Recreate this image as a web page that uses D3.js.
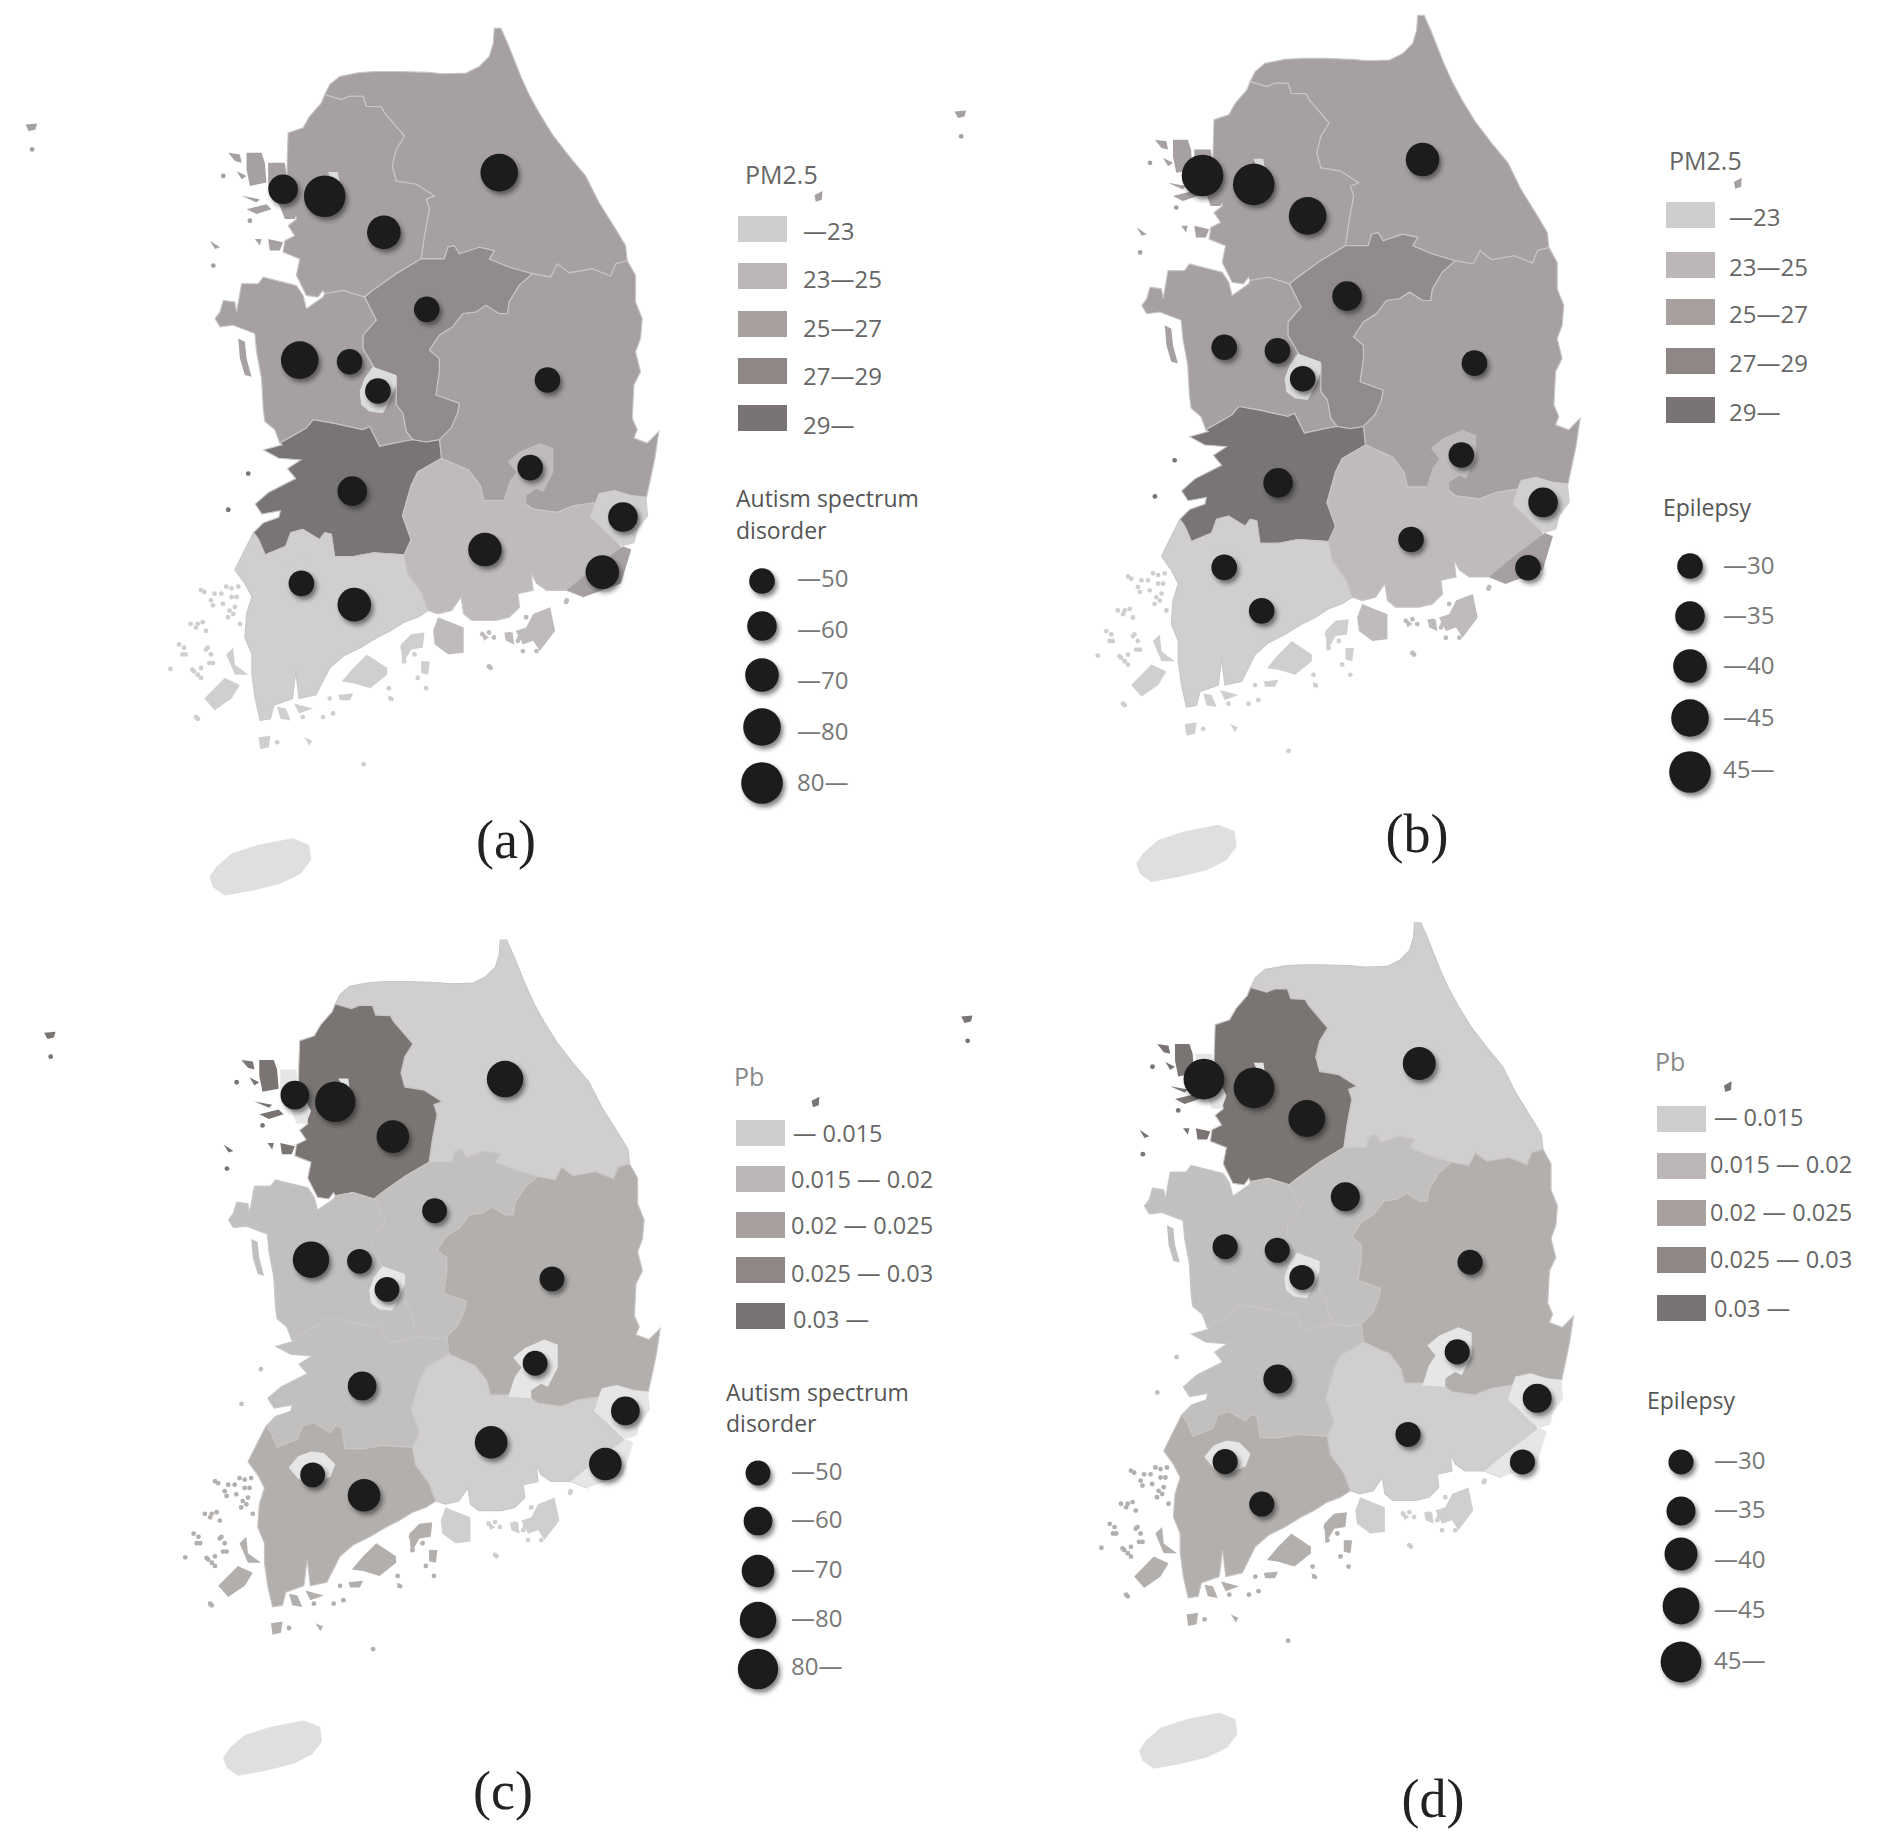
<!DOCTYPE html>
<html>
<head>
<meta charset="utf-8">
<script src="https://cdn.jsdelivr.net/npm/d3@7"></script>
<style>
  html, body { margin: 0; padding: 0; background: #fff; }
  text { font-family: "Open Sans", "Noto Sans", sans-serif; }
  .panel-label { font-family: "Liberation Serif", serif; fill: #222; }
</style>
</head>
<body>
<div id="chart"></div>
<script>
// province outlines, in map units
const gangwon = [[375,225],[390,195],[420,170],[480,158],[530,155],[600,155],[690,158],[730,162],[800,160],[840,140],[870,110],[882,70],[885,25],[905,25],[925,70],[945,120],[965,170],[990,225],[1020,280],[1060,345],[1110,410],[1160,470],[1200,550],[1250,630],[1280,680],[1285,725],[1250,735],[1235,772],[1180,750],[1110,762],[1075,735],[1055,775],[1000,765],[930,745],[870,720],[885,695],[840,685],[780,705],[765,680],[745,685],[735,720],[665,720],[675,650],[690,570],[680,540],[705,530],[650,495],[590,485],[578,440],[590,390],[615,350],[585,315],[555,280],[545,262],[500,260],[490,230],[450,230],[425,240]];
const gyeonggi = [[375,225],[425,240],[450,230],[490,230],[500,260],[545,262],[555,280],[585,315],[615,350],[590,390],[578,440],[590,485],[650,495],[705,530],[680,540],[690,570],[675,650],[665,720],[590,765],[520,815],[495,835],[430,815],[375,825],[370,815],[355,835],[320,830],[305,800],[290,770],[300,720],[250,700],[255,665],[285,650],[265,620],[290,600],[285,570],[260,540],[262,430],[265,340],[310,325],[330,290],[365,250]];
const chungbuk = [[495,835],[520,815],[590,765],[665,720],[735,720],[745,685],[765,680],[780,705],[840,685],[885,695],[870,720],[930,745],[1000,765],[960,800],[930,850],[925,885],[900,885],[860,860],[830,880],[790,885],[760,925],[720,950],[690,995],[720,1020],[720,1060],[710,1130],[780,1155],[775,1185],[755,1230],[720,1265],[680,1272],[640,1265],[620,1240],[610,1185],[590,1160],[590,1075],[525,1050],[490,990],[490,950],[530,905]];
const chungnam = [[495,835],[430,815],[375,825],[370,835],[320,870],[310,830],[290,800],[190,775],[175,795],[125,795],[110,880],[105,850],[70,845],[60,880],[45,900],[60,925],[100,920],[165,945],[170,1000],[185,1080],[190,1170],[195,1210],[225,1235],[240,1275],[285,1250],[320,1230],[340,1205],[400,1215],[490,1235],[510,1225],[540,1285],[620,1268],[640,1265],[620,1240],[610,1185],[590,1160],[590,1075],[525,1050],[490,990],[490,950],[530,905]];
const gyeongbuk = [[1000,765],[1055,775],[1075,735],[1110,762],[1180,750],[1235,772],[1250,735],[1285,725],[1310,770],[1310,850],[1330,900],[1325,960],[1310,1000],[1325,1060],[1305,1100],[1300,1200],[1315,1235],[1305,1260],[1345,1275],[1380,1240],[1368,1321],[1353,1392],[1343,1438],[1297,1433],[1246,1418],[1200,1428],[1190,1454],[1124,1464],[1073,1484],[1001,1474],[981,1459],[910,1448],[854,1448],[843,1403],[808,1357],[726,1321],[720,1265],[755,1230],[775,1185],[780,1155],[710,1130],[720,1060],[720,1020],[690,995],[720,950],[760,925],[790,885],[830,880],[860,860],[900,885],[925,885],[930,850],[960,800]];
const jeonbuk = [[240,1275],[285,1250],[320,1230],[340,1205],[400,1215],[490,1235],[510,1225],[540,1285],[620,1268],[640,1265],[680,1272],[720,1265],[726,1321],[655,1362],[635,1403],[609,1494],[635,1566],[614,1612],[522,1606],[461,1617],[405,1617],[395,1550],[375,1545],[360,1566],[309,1535],[273,1545],[258,1586],[196,1612],[176,1566],[161,1545],[191,1515],[237,1499],[242,1479],[186,1489],[166,1459],[207,1423],[288,1382],[263,1352],[303,1326],[237,1321],[191,1296],[247,1280]];
const jeonnam = [[161,1545],[176,1566],[196,1612],[258,1586],[273,1545],[309,1535],[360,1566],[375,1545],[395,1550],[405,1617],[461,1617],[522,1606],[614,1612],[624,1668],[665,1724],[686,1780],[655,1800],[614,1815],[573,1841],[533,1861],[482,1892],[431,1917],[390,1953],[349,2034],[298,2045],[288,1963],[278,2045],[222,2065],[212,2106],[181,2111],[166,2045],[156,1973],[156,1912],[135,1861],[140,1790],[156,1739],[135,1698],[105,1657],[130,1606]];
const gyeongnam = [[726,1321],[808,1357],[843,1403],[854,1448],[910,1448],[981,1459],[1001,1474],[1073,1484],[1124,1464],[1190,1454],[1175,1499],[1215,1535],[1251,1571],[1266,1586],[1256,1617],[1164,1668],[1154,1739],[1103,1719],[1042,1719],[1012,1698],[996,1668],[1002,1719],[956,1729],[961,1770],[930,1800],[889,1810],[818,1810],[793,1790],[785,1739],[757,1780],[716,1790],[686,1780],[665,1724],[624,1668],[614,1612],[635,1566],[609,1494],[635,1403],[655,1362]];
const daejeon = [[480,1120],[495,1080],[520,1045],[590,1070],[590,1100],[570,1150],[550,1185],[510,1180],[485,1160]];
const daegu = [[961,1301],[1022,1275],[1063,1291],[1063,1362],[1032,1423],[1012,1413],[981,1433],[981,1459],[910,1454],[930,1392],[951,1362],[925,1331]];
const ulsan = [[1343,1438],[1348,1494],[1317,1535],[1307,1576],[1272,1586],[1251,1571],[1215,1535],[1175,1499],[1190,1454],[1200,1428],[1246,1418],[1297,1433]];
const busan = [[1272,1586],[1297,1596],[1266,1698],[1154,1739],[1103,1719],[1164,1668],[1246,1606]];
const gwangju = [[231,1675],[260,1640],[300,1625],[340,1630],[375,1665],[360,1705],[310,1725],[260,1710]];
const seoul = [[385,458],[415,458],[420,490],[395,480]];
const incheon = [[205,430],[255,430],[262,480],[300,560],[285,600],[255,600],[240,560],[205,510]];

const regionNames = ["Gangwon","Gyeonggi","Chungbuk","Chungnam","Gyeongbuk","Jeonbuk","Jeonnam","Gyeongnam","Daejeon","Daegu","Ulsan","Busan","Gwangju","Seoul","Incheon"];
const regionShapes = [gangwon,gyeonggi,chungbuk,chungnam,gyeongbuk,jeonbuk,jeonnam,gyeongnam,daejeon,daegu,ulsan,busan,gwangju,seoul,incheon];

// islands: [owner region index, outline]
const islands = [
  [1,[[140,400],[185,400],[195,430],[200,490],[150,500],[140,450]]],
  [1,[[85,400],[120,405],[125,430],[105,425]]],
  [1,[[110,455],[140,470],[125,480]]],
  [1,[[140,570],[200,555],[215,570],[170,585]]],
  [1,[[30,665],[60,685],[45,690]]],
  [1,[[165,660],[185,660],[180,680]]],
  [1,[[205,660],[250,670],[240,695],[210,695]]],
  [1,[[125,530],[180,540],[170,550]]],
  [1,[[-525,315],[-490,312],[-495,330],[-515,335]]],
  [1,[[1848,528],[1872,515],[1870,542],[1852,548]]],
  [3,[[115,960],[135,970],[140,1020],[155,1075],[135,1070],[120,1020]]],
  [6,[[13,2045],[74,1983],[120,2004],[95,2045],[44,2080]]],
  [6,[[426,1994],[461,1953],[502,1912],[563,1953],[563,1973],[512,2014],[461,1999]]],
  [6,[[232,2070],[258,2075],[273,2111],[242,2106]]],
  [6,[[79,1912],[100,1892],[105,1943],[146,1973],[105,1973]]],
  [6,[[604,1882],[635,1851],[675,1846],[670,1892],[635,1897],[609,1943]]],
  [6,[[665,1933],[691,1933],[686,1973],[665,1968]]],
  [6,[[416,2034],[461,2029],[451,2050],[421,2050]]],
  [6,[[563,2034],[584,2045],[579,2055]]],
  [6,[[283,2060],[339,2075],[298,2090]]],
  [6,[[176,2162],[212,2157],[207,2192],[181,2198]]],
  [6,[[314,2162],[337,2172],[329,2187]]],
  [7,[[701,1841],[716,1800],[793,1831],[793,1907],[747,1912],[706,1882]]],
  [7,[[1002,1790],[1053,1770],[1068,1841],[1022,1902],[1002,1871],[971,1882],[950,1841],[981,1831]]],
  [7,[[915,1846],[940,1846],[945,1882],[920,1871]]],
  [7,[[844,1841],[869,1861],[854,1871]]]
];
const jejuShape = [[28,2583],[49,2552],[95,2512],[176,2486],[278,2466],[328,2486],[334,2532],[303,2573],[242,2603],[156,2624],[74,2639],[39,2614]];

// tiny islets: [owner, x, y]
const islets = [[1,70,470],[1,150,605],[1,-505,390],[1,40,740],[6,13,1724],[6,64,1729],[6,95,1713],[6,39,1764],[6,89,1780],[6,-7,1820],[6,18,1841],[6,-48,1892],[6,18,1897],[6,-18,1963],[6,39,1938],[6,100,1790],[6,110,1739],[6,-53,1912],[6,-7,1973],[6,-12,2101],[6,-89,1956],[5,145,1367],[5,85,1476],[7,930,1851],[7,961,1861],[7,849,1851],[7,869,1948],[7,1101,1754],[7,981,1800],[6,492,2243],
  [7,869,1846],[7,884,1861],[7,956,1871],[7,971,1902],[7,1012,1902],[7,1103,1749],[6,609,1892],[6,645,1912],[6,614,1933],[6,675,1953],[6,655,1983],[6,680,2014],[6,568,2014],[6,573,2045],[6,390,2045],[6,370,2101],[6,400,2090],[6,309,2101],
  [6,3,1718],[6,44,1729],[6,79,1708],[6,95,1739],[6,115,1708],[6,33,1749],[6,69,1759],[6,105,1769],[6,84,1800],[6,120,1820],[6,-12,1831],[6,8,1815],[6,-28,1820],[6,23,1892],[6,-63,1882],[6,-43,1912],[6,33,1912],[6,-23,1958],[6,3,1953],[6,3,1983],[6,28,1938],[6,-7,2106],[6,232,2177],[7,874,1953]];

// fill class of each region, 0 lowest, 4 highest, 5 the pale enclaves
const pm25Classes = [2,2,3,2,2,4,0,1,5,1,0,2,0,5,2];
const pbClasses = [0,4,1,1,2,1,2,0,5,5,5,5,5,5,5];

const pmTones = ["#d0cecf","#bfbbbb","#a6a1a0","#918c8b","#797474","#dcdcdc"];
const pbTones = ["#d0cecf","#c2bfbf","#b2afad","#928d8c","#7a7473","#e6e6e6"];
const legendTones = ["#cfcdce","#bcb6b6","#a7a09f","#8f8786","#797373"];
const jejuTone = "#dfdfdf";

const pm25Labels = ["—23","23—25","25—27","27—29","29—"];
const pbLabels = ["— 0.015","0.015 — 0.02","0.02 — 0.025","0.025 — 0.03","0.03 —"];
const autismLabels = ["—50","—60","—70","—80","80—"];
const epilepsyLabels = ["—30","—35","—40","—45","45—"];
const autismLevels = [50,60,70,80,90];
const epilepsyLevels = [30,35,40,45,50];

// sites, one per region order below
const siteNames = ["Incheon","Seoul","Gyeonggi","Gangwon","Chungbuk","Chungnam","Sejong","Daejeon","Gyeongbuk","Daegu","Jeonbuk","Gyeongnam","Ulsan","Busan","Gwangju","Jeonnam"];
const autismX = [250,375,553,900,682,300,450,535,1045,993,458,857,1272,1210,305,464];
const autismY = [510,531,640,460,872,1025,1030,1118,1085,1349,1420,1596,1498,1664,1698,1762];
const autismValues = [60,90,70,80,50,80,50,50,50,50,60,70,60,70,50,70];
const epilepsyX = [230,386,550,900,670,296,458,535,1058,1018,460,865,1267,1221,296,410];
const epilepsyY = [508,535,630,460,872,1026,1037,1121,1074,1351,1435,1606,1494,1691,1690,1821];
const epilepsyValues = [50,50,45,40,35,30,30,30,30,30,35,30,35,30,30,30];

const width = 1877, height = 1848;
const swatchW = 49, swatchH = 26;
const firstEnclave = 8;

const svg = d3.select("#chart").append("svg")
  .attr("width", width).attr("height", height)
  .style("display", "block");

const defs = svg.append("defs");
const shadow = defs.append("filter").attr("id", "bubbleShadow")
  .attr("x", "-40%").attr("y", "-40%").attr("width", "190%").attr("height", "190%");
shadow.append("feDropShadow").attr("dx", 2.5).attr("dy", 3.5).attr("stdDeviation", 2.2)
  .attr("flood-color", "#222").attr("flood-opacity", 0.55);
const soft = defs.append("filter").attr("id", "soft");
soft.append("feGaussianBlur").attr("stdDeviation", 0.7);

const panels = [
  { label:"(a)", labelX:506, labelY:858, tx:200, kx:0.3325, ty:20, ky:0.3318, size:1,
    classes:pm25Classes, tones:pmTones,
    title:"PM2.5", titleX:745, titleY:184, titleFill:"#666",
    rows:pm25Labels, swatchX:738, swatchY:[216,263,311,358,405], rowX:803, rowY:[240,288,337,385,434], rowX0:803,
    sizeTitle:["Autism spectrum","disorder"], sizeTitleX:736, sizeTitleY:[507,539],
    sizeLabels:autismLabels, levels:autismLevels, dotX:762, dotY:[581,626,675,727,783], dotLabelX:797, dotLabelY:[587,638,689,740,791],
    sx:autismX, sy:autismY, sv:autismValues },
  { label:"(b)", labelX:1417, labelY:852, tx:1127, kx:0.3284, ty:7, ky:0.3316, size:1,
    classes:pm25Classes, tones:pmTones,
    title:"PM2.5", titleX:1669, titleY:170, titleFill:"#666",
    rows:pm25Labels, swatchX:1666, swatchY:[202,252,299,348,397], rowX:1729, rowY:[226,276,323,372,421], rowX0:1729,
    sizeTitle:["Epilepsy"], sizeTitleX:1663, sizeTitleY:[516],
    sizeLabels:epilepsyLabels, levels:epilepsyLevels, dotX:1690, dotY:[566,616,666,718,772], dotLabelX:1723, dotLabelY:[574,624,674,726,778],
    sx:epilepsyX, sy:epilepsyY, sv:epilepsyValues },
  { label:"(c)", labelX:503, labelY:1809, tx:214, kx:0.3234, ty:932, ky:0.3197, size:0.97,
    classes:pbClasses, tones:pbTones,
    title:"Pb", titleX:734, titleY:1086, titleFill:"#888",
    rows:pbLabels, swatchX:736, swatchY:[1120,1166,1212,1257,1303], rowX:791, rowY:[1142,1188,1234,1282,1328], rowX0:793,
    sizeTitle:["Autism spectrum","disorder"], sizeTitleX:726, sizeTitleY:[1401,1432],
    sizeLabels:autismLabels, levels:autismLevels, dotX:758, dotY:[1473,1521,1571,1620,1669], dotLabelX:791, dotLabelY:[1480,1528,1578,1627,1675],
    sx:autismX, sy:autismY, sv:autismValues },
  { label:"(d)", labelX:1433, labelY:1817, tx:1130, kx:0.3214, ty:914.6, ky:0.3237, size:0.98,
    classes:pbClasses, tones:pbTones,
    title:"Pb", titleX:1655, titleY:1071, titleFill:"#888",
    rows:pbLabels, swatchX:1657, swatchY:[1106,1153,1200,1247,1295], rowX:1710, rowY:[1126,1173,1221,1268,1317], rowX0:1714,
    sizeTitle:["Epilepsy"], sizeTitleX:1647, sizeTitleY:[1409],
    sizeLabels:epilepsyLabels, levels:epilepsyLevels, dotX:1681, dotY:[1462,1511,1554,1606,1662], dotLabelX:1714, dotLabelY:[1469,1518,1568,1618,1669],
    sx:epilepsyX, sy:epilepsyY, sv:epilepsyValues }
];

const drawPanel = function (p) {
  const x = d3.scaleLinear().domain([0, 1000]).range([p.tx, p.tx + 1000 * p.kx]);
  const y = d3.scaleLinear().domain([0, 1000]).range([p.ty, p.ty + 1000 * p.ky]);
  const r = d3.scaleLinear().domain(d3.extent(p.levels)).range([12.8 * p.size, 20.8 * p.size]);
  const outline = d3.line().x(d => x(d[0])).y(d => y(d[1])).curve(d3.curveLinearClosed);
  const tone = i => p.tones[p.classes[i]];

  const map = svg.append("g").attr("filter", "url(#soft)");

  map.selectAll("path.region")
    .data(regionShapes)
    .join("path")
      .attr("class", "region")
      .attr("d", outline)
      .attr("fill", (d, i) => tone(i))
      .attr("stroke", (d, i) => i < firstEnclave ? "#c9c6c6" : "none")
      .attr("stroke-width", 1.1);

  map.selectAll("path.island")
    .data(islands)
    .join("path")
      .attr("class", "island")
      .attr("d", d => outline(d[1]))
      .attr("fill", d => tone(d[0]));

  map.selectAll("circle.islet")
    .data(islets)
    .join("circle")
      .attr("class", "islet")
      .attr("cx", d => x(d[1]))
      .attr("cy", d => y(d[2]))
      .attr("r", 2.4)
      .attr("fill", d => tone(d[0]));

  map.append("path")
    .attr("d", outline(jejuShape))
    .attr("fill", jejuTone);

  // site bubbles
  svg.append("g")
    .selectAll("circle")
    .data(p.sv)
    .join("circle")
      .attr("cx", (d, i) => x(p.sx[i]))
      .attr("cy", (d, i) => y(p.sy[i]))
      .attr("r", d => r(d))
      .attr("fill", "#1c1c1c")
      .attr("filter", "url(#bubbleShadow)");

  // colour legend
  svg.append("text")
    .attr("x", p.titleX).attr("y", p.titleY)
    .attr("font-size", 25).attr("fill", p.titleFill)
    .text(p.title);

  svg.append("g").selectAll("rect")
    .data(legendTones)
    .join("rect")
      .attr("x", p.swatchX)
      .attr("y", (d, i) => p.swatchY[i])
      .attr("width", swatchW).attr("height", swatchH)
      .attr("fill", d => d);

  svg.append("g").selectAll("text")
    .data(p.rows)
    .join("text")
      .attr("x", (d, i) => (i === 0 || i === 4) ? p.rowX0 : p.rowX)
      .attr("y", (d, i) => p.rowY[i])
      .attr("font-size", p.rows === pbLabels ? 23.5 : 24)
      .attr("fill", "#666")
      .text(d => d);

  // bubble size legend
  svg.append("g").selectAll("text")
    .data(p.sizeTitle)
    .join("text")
      .attr("x", p.sizeTitleX)
      .attr("y", (d, i) => p.sizeTitleY[i])
      .attr("font-size", 23)
      .attr("fill", "#555")
      .text(d => d);

  svg.append("g").selectAll("circle")
    .data(p.levels)
    .join("circle")
      .attr("cx", p.dotX)
      .attr("cy", (d, i) => p.dotY[i])
      .attr("r", d => r(d))
      .attr("fill", "#1c1c1c")
      .attr("filter", "url(#bubbleShadow)");

  svg.append("g").selectAll("text")
    .data(p.sizeLabels)
    .join("text")
      .attr("x", p.dotLabelX)
      .attr("y", (d, i) => p.dotLabelY[i])
      .attr("font-size", 24)
      .attr("fill", "#777")
      .text(d => d);

  svg.append("text")
    .attr("class", "panel-label")
    .attr("x", p.labelX).attr("y", p.labelY)
    .attr("text-anchor", "middle")
    .attr("font-size", 54)
    .text(p.label);
};

panels.forEach(drawPanel);
</script>
</body>
</html>
